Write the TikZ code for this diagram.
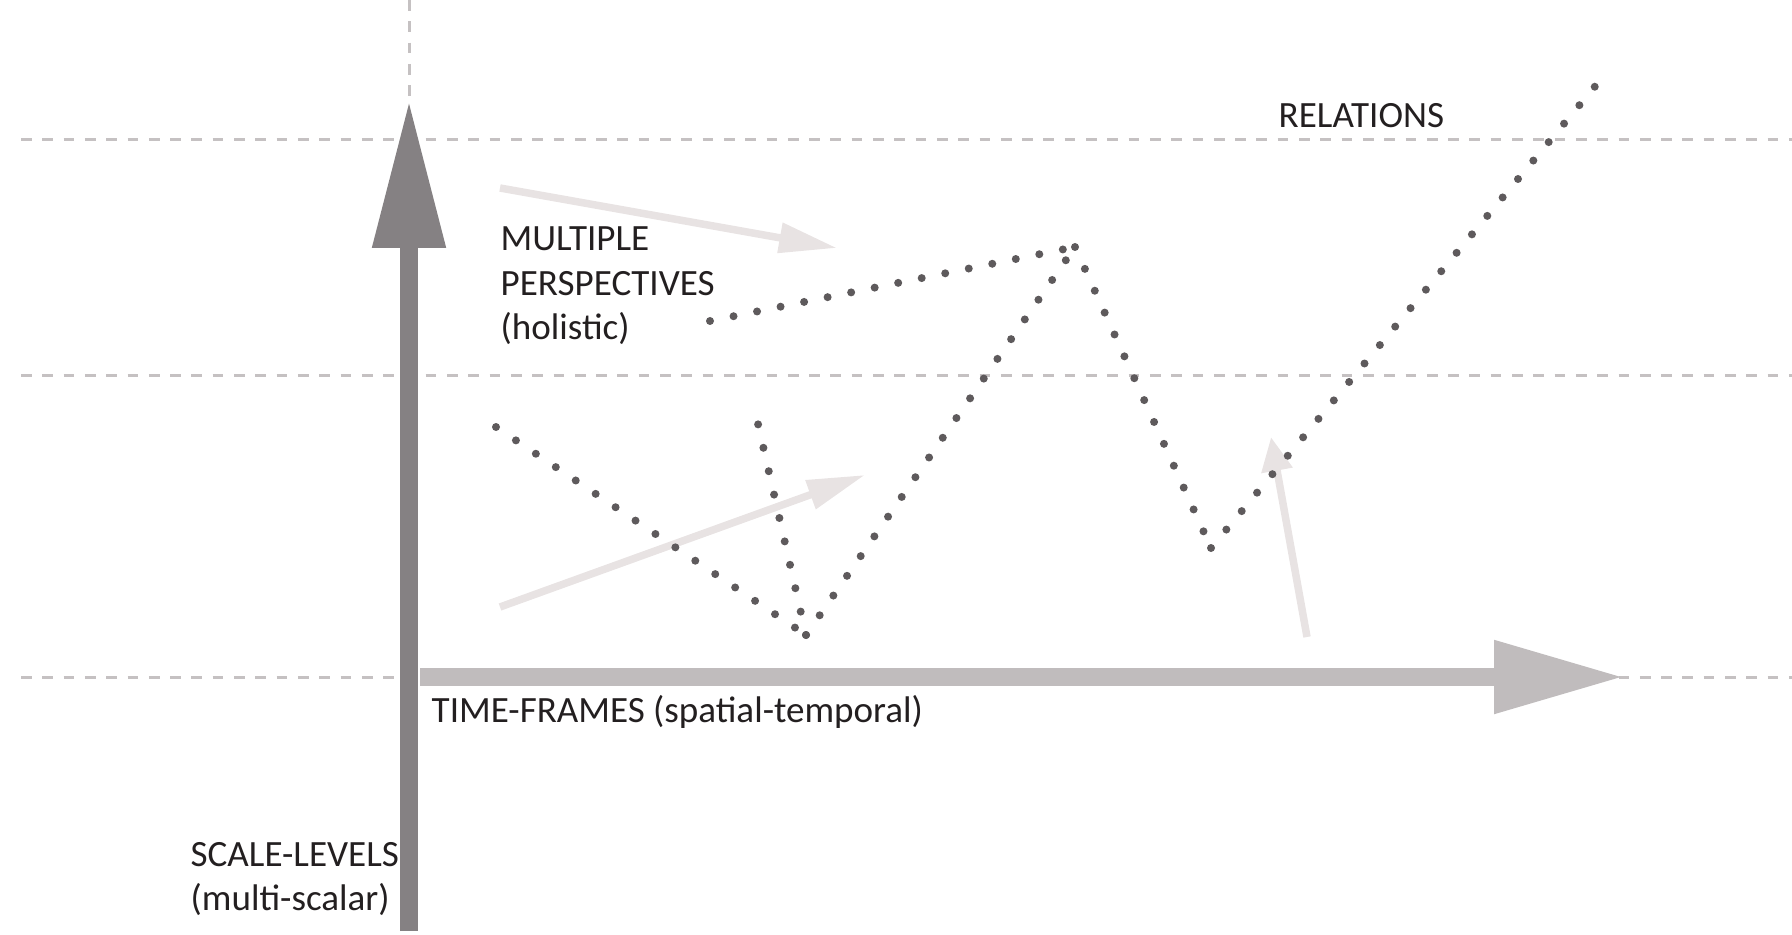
\documentclass[tikz,border=0pt]{standalone}
\usepackage{fontspec}
\setmainfont{Carlito}
\usetikzlibrary{arrows.meta,positioning}
\tikzset{>=latex}
\definecolor{guidegray}{HTML}{C5C1C2}
\definecolor{darkaxis}{HTML}{858183}
\definecolor{lightaxis}{HTML}{C0BCBD}
\definecolor{palegray}{HTML}{E8E3E3}
\definecolor{dotgray}{HTML}{5E5A5C}
\definecolor{inkblack}{HTML}{231F20}

\begin{document}
\begin{tikzpicture}[x=0.1mm,y=-0.1mm,
    guide/.style={draw=guidegray,line width=0.3mm,dash pattern=on 1.07mm off 1.06mm},
    axisline/.style={line width=1.8mm},
    nudge/.style={draw=palegray,line width=0.75mm,-{Triangle[length=5.8mm,width=2.9mm]}},
    dotline/.style={draw=dotgray,line width=0.8mm,line cap=round,dash pattern=on 0pt off 2.4mm},
    lbl/.style={text=inkblack,inner sep=0pt,font=\fontsize{10.55}{12.66}\selectfont,align=left}]
  \useasboundingbox (0,0) rectangle (1792,935);
  \def\xo{409}   % x of the scale axis
  \def\yo{677}   % y of the time axis

  % dashed guide lines
  \draw[guide] (21,140) -- (1792,140);
  \draw[guide] (21,375) -- (1792,375);
  \draw[guide] (21,\yo) -- (1792,\yo);
  \draw[guide] (\xo,0) -- (\xo,100);

  % the two axes
  \coordinate (S0) at (\xo,931);
  \coordinate (S1) at (\xo,100);
  \coordinate (T0) at (420,\yo);
  \coordinate (T1) at (1624,\yo);
  \draw[axisline,darkaxis,-{Triangle[length=14.8mm,width=6.9mm]}] (S0) -- (S1);
  \draw[axisline,lightaxis,-{Triangle[length=13mm,width=6.9mm]}] (T0) -- (T1);

  % pale arrows
  \coordinate (a0) at (500,188);
  \coordinate (a1) at (837,248);
  \coordinate (b0) at (500,607);
  \coordinate (b1) at (865,475);
  \coordinate (c0) at (1307,637);
  \coordinate (c1) at (1271,437);
  \draw[nudge] (a0) -- (a1);
  \draw[nudge] (b0) -- (b1);
  \draw[nudge,-{Triangle[length=3.4mm,width=3mm]}] (c0) -- (c1);

  % dotted relation paths
  \coordinate (v1) at (496,427);
  \coordinate (v2) at (758,424);
  \coordinate (vb) at (806,635);
  \coordinate (pk) at (1075,247);
  \coordinate (ps) at (710,321);
  \coordinate (wb) at (1211,548);
  \coordinate (rt) at (1597,84);
  \draw[dotline] (v1) -- (vb);
  \draw[dotline] (vb) -- (v2);
  \draw[dotline] (vb) -- (pk);
  \draw[dotline] (ps) -- (pk);
  \draw[dotline] (pk) -- (wb);
  \draw[dotline] (wb) -- (rt);

  % labels
  \node[lbl,anchor=base west] (rel) at (1278,128) {RELATIONS};
  \node[lbl,anchor=base west] (multi) at (500,251) {MULTIPLE};
  \node[lbl,anchor=base west] (persp) at (500,296) {PERSPECTIVES};
  \node[lbl,anchor=base west] (holi) at (500,340) {(holistic)};
  \node[lbl,anchor=base west] (time) at (431,722) {TIME-FRAMES (spatial-temporal)};
  \node[lbl,anchor=base west] (scale) at (190,866) {SCALE-LEVELS};
  \node[lbl,anchor=base west] (multisc) at (190,910) {(multi-scalar)};
\end{tikzpicture}
\end{document}
